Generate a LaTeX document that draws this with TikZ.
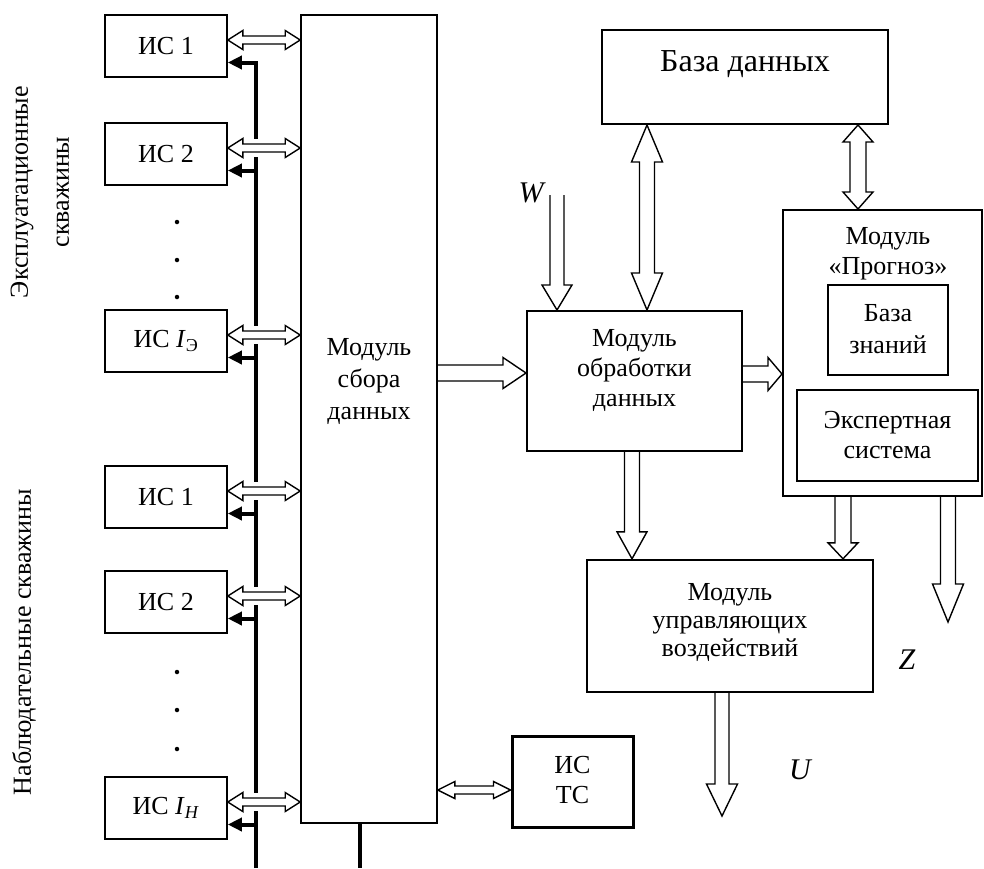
\documentclass[tikz,border=0pt]{standalone}
\usepackage{fontspec}
\setmainfont{Liberation Serif}
\usetikzlibrary{calc,arrows.meta}
\tikzset{
  box/.style={draw, line width=1.6pt, inner sep=0pt},
  isbox/.style={box, minimum width=122pt, minimum height=62pt, font=\fontsize{26}{30}\selectfont},
  txt/.style={align=center, font=\fontsize{26}{30}\selectfont, inner sep=0pt},
  harr/.style={draw, line width=1.4pt, line join=miter},
  bus/.style={line width=4pt},
  fillarrow/.style={-{Triangle[length=14pt,width=13pt]}},
  dotn/.style={circle, fill, inner sep=0pt, minimum size=4.5pt},
  lbl/.style={inner sep=0pt, font=\fontsize{30}{30}\selectfont\itshape},
}
% single hollow arrow: #1 start, #2 tip, #3 half shaft, #4 half head, #5 head length
\newcommand{\hollowarrow}[5]{%
  \coordinate (hA) at (#1);
  \coordinate (hB) at (#2);
  \coordinate (hC) at ($(hB)!#5!(hA)$);
  \draw[harr] ($(hA)!#3!90:(hB)$) -- ($(hC)!#3!90:(hB)$) -- ($(hC)!#4!90:(hB)$) -- (hB)
     -- ($(hC)!#4!-90:(hB)$) -- ($(hC)!#3!-90:(hB)$) -- ($(hA)!#3!-90:(hB)$);
}
% double hollow arrow
\newcommand{\hollowdarrow}[5]{%
  \coordinate (hA) at (#1);
  \coordinate (hB) at (#2);
  \coordinate (hC) at ($(hB)!#5!(hA)$);
  \coordinate (hD) at ($(hA)!#5!(hB)$);
  \draw[harr] (hA) -- ($(hD)!#4!90:(hB)$) -- ($(hD)!#3!90:(hB)$) -- ($(hC)!#3!90:(hB)$)
     -- ($(hC)!#4!90:(hB)$) -- (hB) -- ($(hC)!#4!-90:(hB)$) -- ($(hC)!#3!-90:(hB)$)
     -- ($(hD)!#3!-90:(hB)$) -- ($(hD)!#4!-90:(hB)$) -- cycle;
}
\begin{document}
\begin{tikzpicture}[x=1pt,y=-1pt]
\useasboundingbox (0,0) rectangle (984,868);

% side labels
\node[txt, rotate=90, font=\fontsize{26}{41}\selectfont] (lab1) at (40,192) {Эксплуатационные\\скважины};
\node[txt, rotate=90] (lab2) at (24,642) {Наблюдательные скважины};

% IS boxes
\node[isbox] (is1) at (166,46) {ИС 1};
\node[isbox] (is2) at (166,154) {ИС 2};
\node[isbox] (ise) at (166,341) {ИС \textit{I}\textsubscript{Э}};
\node[isbox] (in1) at (166,497) {ИС 1};
\node[isbox] (in2) at (166,602) {ИС 2};
\node[isbox] (inh) at (166,808) {ИС \textit{I}\textsubscript{\textit{H}}};

% dots
\node[dotn] (dt1) at (177,222) {};
\node[dotn] (dt2) at (177,260) {};
\node[dotn] (dt3) at (177,297) {};
\node[dotn] (dt4) at (177,672) {};
\node[dotn] (dt5) at (177,710) {};
\node[dotn] (dt6) at (177,749) {};

% data collection module
\node[box, minimum width=136pt, minimum height=808pt] (sbor) at (369,419) {};
\node[txt, font=\fontsize{26}{32}\selectfont] (sbort) at (369,381) {Модуль\\сбора\\данных};

% coordinates for connectors
\foreach \b in {is1,is2,ise,in1,in2,inh}{
  \coordinate (d\b) at ([yshift=6pt]\b.east);
  \coordinate (f\b) at ([yshift=-16.5pt]\b.east);
}
\coordinate (busbot) at (256,868);

% bus
\draw[bus, fillarrow] (busbot) -- (busbot |- fis1) -- (fis1);
\foreach \b in {is2,ise,in1,in2,inh}{
  \draw[bus, fillarrow] (busbot |- f\b) -- (f\b);
}
\draw[bus] ([xshift=-9pt]sbor.south) -- ([xshift=-9pt]sbor.south |- busbot);

% IS <-> module double arrows
\foreach \b in {is1,is2,ise,in1,in2,inh}{
  \fill[white] (busbot |- d\b) ++(-5,-9) rectangle ++(10,18);
  \hollowdarrow{d\b}{sbor.west |- d\b}{4pt}{9.5pt}{15pt}
}

% right side boxes
\node[box, line width=2pt, minimum width=286pt, minimum height=94pt] (db) at (745,77) {};
\node[txt, font=\fontsize{32}{36}\selectfont, anchor=base] (dbt) at (745,71) {База данных};

\node[box, line width=2pt, minimum width=215pt, minimum height=140pt] (obr) at (634.5,381) {};
\node[txt] (obrt) at (634.5,370) {Модуль\\обработки\\данных};

\node[box, line width=2pt, minimum width=199pt, minimum height=286pt] (prog) at (882.5,353) {};
\node[txt] (progt) at (888,254) {Модуль\\«Прогноз»};
\node[box, line width=2pt, minimum width=120pt, minimum height=90pt] (bz) at (888,330) {};
\node[txt, font=\fontsize{26}{32}\selectfont] (bzt) at (888,329) {База\\знаний};
\node[box, line width=2pt, minimum width=181pt, minimum height=91pt] (es) at (887.5,435.5) {};
\node[txt] (est) at (887.5,435) {Экспертная\\система};

\node[box, line width=2.4pt, minimum width=286pt, minimum height=132pt] (upr) at (730,626) {};
\node[txt, font=\fontsize{26}{28}\selectfont] (uprt) at (730,622) {Модуль\\управляющих\\воздействий};

\node[box, line width=3pt, minimum width=121pt, minimum height=91pt] (ists) at (572.5,781.5) {};
\node[txt] (istst) at (572.5,780) {ИС\\ТС};

% helper coordinates
\coordinate (c1) at ([yshift=8pt]obr.west);
\coordinate (c2) at ([yshift=7pt]obr.east);
\coordinate (wtop) at (557,195);
\coordinate (x647) at (647,0);
\coordinate (x858) at (858,0);
\coordinate (x632) at (632,0);
\coordinate (x843) at (843,0);
\coordinate (zend) at (948,622);
\coordinate (uend) at (722,816);
\coordinate (tsy) at (0,790);

% hollow arrows
\hollowarrow{sbor.east |- c1}{c1}{8pt}{15.5pt}{23pt}
\hollowarrow{c2}{prog.west |- c2}{8pt}{16.5pt}{14pt}
\hollowarrow{wtop}{wtop |- obr.north}{7pt}{15pt}{25pt}
\hollowdarrow{db.south -| x647}{obr.north -| x647}{7.5pt}{15.5pt}{37pt}
\hollowdarrow{db.south -| x858}{prog.north -| x858}{8pt}{15pt}{17pt}
\hollowarrow{obr.south -| x632}{upr.north -| x632}{7.5pt}{15pt}{27pt}
\hollowarrow{prog.south -| x843}{upr.north -| x843}{8pt}{15pt}{16pt}
\hollowarrow{prog.south -| zend}{zend}{7.5pt}{15.5pt}{38pt}
\hollowarrow{upr.south -| uend}{uend}{7pt}{15.5pt}{32pt}
\hollowdarrow{sbor.east |- tsy}{ists.west |- tsy}{4pt}{8.5pt}{17pt}

% labels
\node[lbl] (W) at (531,193) {W};
\node[lbl] (Z) at (907,660) {Z};
\node[lbl] (U) at (800,770) {U};
\end{tikzpicture}
\end{document}
